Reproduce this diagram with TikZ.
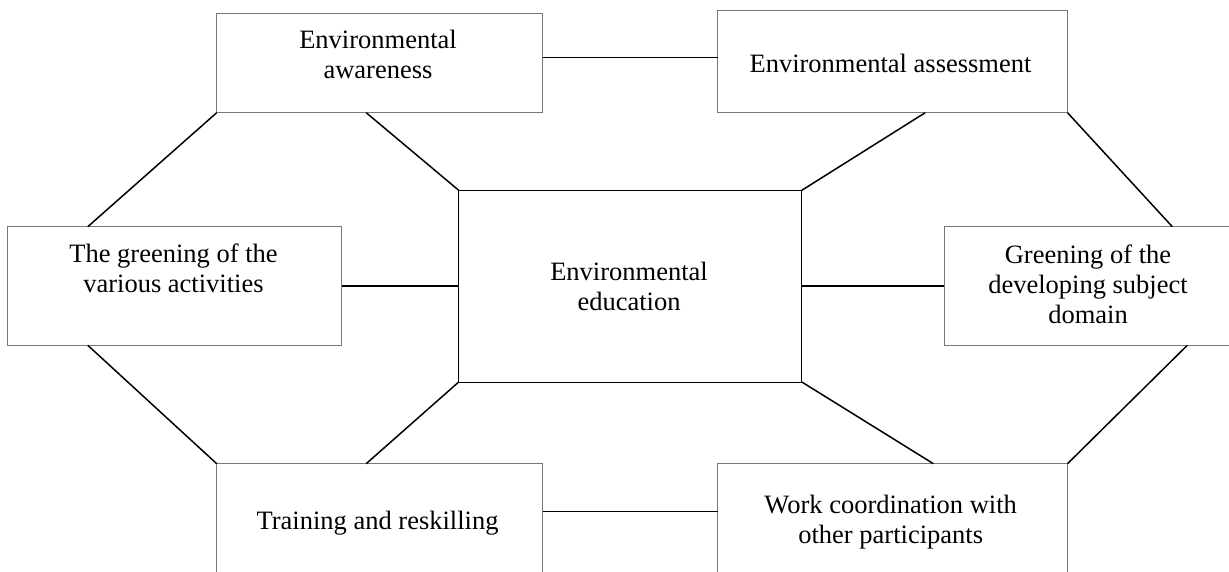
\documentclass[tikz,border=0pt]{standalone}
\usepackage{fontspec}
\setmainfont{Liberation Serif}
\usetikzlibrary{calc}
\tikzset{
  box/.style={draw=boxgray, line width=1pt, rectangle, inner sep=0pt, outer sep=0pt},
  centerbox/.style={draw=black, line width=1pt, rectangle, inner sep=0pt, outer sep=0pt},
  link/.style={draw=black, line width=1.5pt},
  txt/.style={anchor=north, inner sep=0pt, align=center, font=\fontsize{26.5}{30}\selectfont}
}
\definecolor{boxgray}{RGB}{120,120,120}
\begin{document}
\begin{tikzpicture}[x=1pt,y=-1pt]
\useasboundingbox (0,0) rectangle (1229,572);
\clip (0,0) rectangle (1229,572);
% boxes
\node[box, minimum width=326.2pt, minimum height=98.7pt] (aw) at (379.8,63.35) {};
\node[box, minimum width=349.9pt, minimum height=101.7pt] (as) at (892.55,61.85) {};
\node[box, minimum width=333.7pt, minimum height=118.6pt] (gl) at (174.75,286) {};
\node[centerbox, minimum width=343.1pt, minimum height=191.7pt] (ed) at (630.25,286.15) {};
\node[box, minimum width=287pt, minimum height=118.6pt] (gr) at (1087.6,286) {};
\node[box, minimum width=326.2pt, minimum height=118pt] (tr) at (379.8,522.7) {};
\node[box, minimum width=349.9pt, minimum height=118pt] (wk) at (892.55,522.7) {};
% texts
\node[txt] (awt) at (378,30.1) {Environmental\\awareness};
\node[txt] (ast) at (890.5,53.5) {Environmental assessment};
\node[txt] (glt) at (173.5,243.5) {The greening of the\\various activities};
\node[txt] (edt) at (629,261.8) {Environmental\\education};
\node[txt] (grt) at (1088,244.8) {Greening of the\\developing subject\\domain};
\node[txt] (trt) at (377.6,510.5) {Training and reskilling};
\node[txt] (wkt) at (890.7,494.5) {Work coordination with\\other participants};
% connectors
\draw[link] ([yshift=6pt]aw.east) -- ([yshift=6pt]aw.east -| as.west);
\draw[link] ([yshift=11.2pt]tr.east) -- ([yshift=11.2pt]tr.east -| wk.west);
\draw[link] (gl.east) -- (gl.east -| ed.west);
\draw[link] (ed.east) -- (ed.east -| gr.west);
\draw[link] (aw.south west) -- ([xshift=79.9pt]gl.north west);
\draw[link] ([xshift=149.5pt]aw.south west) -- (ed.north west);
\draw[link] ([xshift=207.6pt]as.south west) -- (ed.north east);
\draw[link] (as.south east) -- ([xshift=228.2pt]gr.north west);
\draw[link] ([xshift=79.9pt]gl.south west) -- (tr.north west);
\draw[link] (ed.south west) -- ([xshift=149.5pt]tr.north west);
\draw[link] (ed.south east) -- ([xshift=215.8pt]wk.north west);
\draw[link] ([xshift=243.2pt]gr.south west) -- (wk.north east);
\end{tikzpicture}
\end{document}
